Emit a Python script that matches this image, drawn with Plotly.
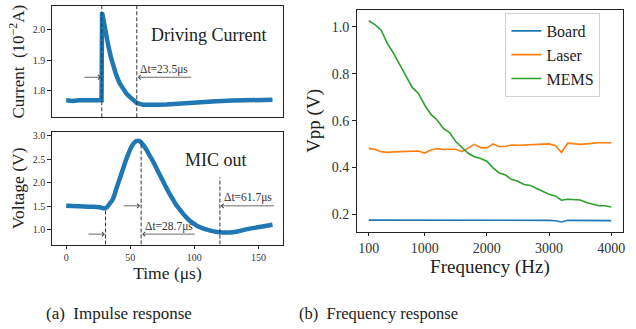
import plotly.graph_objects as go

# ---------------- data ----------------
# (a) Driving current (10^-2 A) vs time (us)
cur_t = [0, 5, 10, 15, 20, 25, 27.6, 28.0, 29.5, 31.2, 33, 35.1, 37, 39.0, 41.5, 44.2, 47, 49.4,
         52, 55.1, 60, 65, 72, 78, 90, 104, 117, 130, 145, 161]
cur_v = [1.768, 1.766, 1.768, 1.767, 1.768, 1.767, 1.768, 2.058, 2.02, 1.984, 1.945, 1.907, 1.877,
         1.852, 1.826, 1.806, 1.790, 1.780, 1.768, 1.759, 1.753, 1.752, 1.753, 1.754, 1.758, 1.762,
         1.765, 1.767, 1.769, 1.770]
# (a) MIC output voltage (V) vs time (us)
mic_t = [0, 10, 20, 26, 30.7, 33.8, 36.4, 39, 41.6, 44.2, 46.8, 49.4, 52, 54.6, 57.2, 59.8, 62.4,
         65, 67.6, 70.2, 72.8, 75.4, 78, 80.6, 83.2, 85.8, 88.4, 91, 93.6, 96.2, 98.8, 104, 111.8,
         119.6, 130, 140.4, 150.8, 161]
mic_v = [1.51, 1.50, 1.49, 1.48, 1.46, 1.55, 1.65, 1.86, 2.07, 2.28, 2.49, 2.67, 2.81, 2.88, 2.88,
         2.81, 2.71, 2.58, 2.46, 2.32, 2.18, 2.04, 1.90, 1.77, 1.65, 1.53, 1.44, 1.35, 1.27, 1.20,
         1.15, 1.06, 0.99, 0.95, 0.95, 1.01, 1.06, 1.11]

# event markers (time, top value)
cur_events_t = [27.8, 55.1]
mic_events_t = [30.7, 58.5, 120.0]
mic_events_top = [1.44, 2.88, 2.11]

# arrows: (tail_t, head_t, level)
cur_arrows = [(13.0, 27.1, 1.844), (98.8, 55.9, 1.844)]
mic_arrows = [(16.2, 30.2, 0.91), (43.7, 57.7, 1.51), (101.4, 59.3, 0.91), (163.3, 120.6, 1.51)]
cur_labels = [("Δt=23.5μs", 76.0, 1.868)]
mic_labels = [("Δt=28.7μs", 80.4, 1.08), ("Δt=61.7μs", 142.2, 1.69)]

# (b) Frequency response
freq = list(range(100, 4001, 100))
board = [0.176, 0.176, 0.175, 0.176, 0.176, 0.175, 0.176, 0.176, 0.175, 0.176,
         0.176, 0.175, 0.176, 0.175, 0.176, 0.175, 0.176, 0.176, 0.175, 0.176,
         0.176, 0.175, 0.176, 0.177, 0.175, 0.175, 0.176, 0.175, 0.174, 0.175,
         0.173, 0.168, 0.175, 0.175, 0.174, 0.174, 0.174, 0.174, 0.174, 0.174]
laser = [0.481, 0.478, 0.468, 0.465, 0.467, 0.468, 0.468, 0.470, 0.471, 0.462,
         0.475, 0.481, 0.477, 0.478, 0.478, 0.468, 0.482, 0.499, 0.485, 0.484,
         0.501, 0.489, 0.491, 0.496, 0.495, 0.496, 0.496, 0.499, 0.501, 0.501,
         0.494, 0.465, 0.504, 0.501, 0.499, 0.501, 0.504, 0.506, 0.506, 0.506]
mems = [1.026, 1.010, 0.986, 0.929, 0.887, 0.837, 0.787, 0.742, 0.716, 0.667,
        0.627, 0.603, 0.567, 0.549, 0.511, 0.485, 0.461, 0.446, 0.439, 0.427,
        0.399, 0.377, 0.368, 0.349, 0.342, 0.328, 0.324, 0.311, 0.297, 0.286,
        0.279, 0.261, 0.265, 0.263, 0.262, 0.251, 0.244, 0.237, 0.237, 0.232]

# ---------------- figure ----------------
W, H = 636, 329
FONT = "Liberation Serif"
BLUE, ORANGE, GREEN = "#1f77b4", "#ff7f0e", "#2ca02c"
AX = "#222222"

def xd(a, b):
    return [a / W, b / W]

def yd(top, bot):
    return [1 - bot / H, 1 - top / H]

fig = go.Figure()
fig.add_trace(go.Scatter(x=cur_t, y=cur_v, mode="lines", line=dict(color=BLUE, width=4.5),
                         xaxis="x", yaxis="y", showlegend=False))
fig.add_trace(go.Scatter(x=mic_t, y=mic_v, mode="lines", line=dict(color=BLUE, width=4.5, shape="spline"),
                         xaxis="x2", yaxis="y2", showlegend=False))
for name, vals, col in [("Board", board, BLUE), ("Laser", laser, ORANGE), ("MEMS", mems, GREEN)]:
    fig.add_trace(go.Scatter(x=freq, y=vals, mode="lines", name=name, line=dict(color=col, width=1.6),
                             xaxis="x3", yaxis="y3"))

def axstyle(tsize):
    return dict(showline=True, linecolor=AX, linewidth=1, mirror=True, showgrid=False, zeroline=False,
                ticks="outside", ticklen=3.5, tickcolor=AX,
                tickfont=dict(family=FONT, size=tsize, color="#333"))

cur_range = [1.712, 2.079]
mic_range = [0.69, 3.07]
t_range = [-11.2, 169.3]

top_x = axstyle(10)
top_x["ticks"] = ""

fig.update_layout(
    width=W, height=H, margin=dict(l=0, r=0, t=0, b=0),
    plot_bgcolor="white", paper_bgcolor="white",
    font=dict(family=FONT, color="#222"),
    xaxis=dict(domain=xd(52, 284), range=t_range, anchor="y", showticklabels=False, **top_x),
    yaxis=dict(domain=yd(4, 116), range=cur_range, anchor="x", tickvals=[1.8, 1.9, 2.0],
               ticktext=["1.8", "1.9", "2.0"],
               title=dict(text="Current  (10<sup>−2</sup>A)", font=dict(family=FONT, size=17), standoff=3),
               **axstyle(10)),
    xaxis2=dict(domain=xd(52, 284), range=t_range, anchor="y2", tickvals=[0, 50, 100, 150],
                title=dict(text="Time (μs)", font=dict(family=FONT, size=17.5), standoff=3),
                **axstyle(10)),
    yaxis2=dict(domain=yd(131, 244), range=mic_range, anchor="x2", tickvals=[1.0, 1.5, 2.0, 2.5, 3.0],
                ticktext=["1.0", "1.5", "2.0", "2.5", "3.0"],
                title=dict(text="Voltage (V)", font=dict(family=FONT, size=17.5), standoff=3),
                **axstyle(10)),
    xaxis3=dict(domain=xd(357.7, 625.3), range=[-95, 4195], anchor="y3",
                tickvals=[100, 1000, 2000, 3000, 4000],
                title=dict(text="Frequency (Hz)", font=dict(family=FONT, size=19), standoff=4),
                **axstyle(14)),
    yaxis3=dict(domain=yd(8.3, 231), range=[0.127, 1.071], anchor="x3",
                tickvals=[0.2, 0.4, 0.6, 0.8, 1.0], ticktext=["0.2", "0.4", "0.6", "0.8", "1.0"],
                title=dict(text="Vpp (V)", font=dict(family=FONT, size=19), standoff=6),
                **axstyle(14)),
    legend=dict(x=507 / W, y=1 - 11 / H, xanchor="left", yanchor="top",
                bgcolor="white", bordercolor="#d0d0d0", borderwidth=1,
                font=dict(family=FONT, size=16, color="#222"), itemwidth=30,
                tracegroupgap=0),
)

shapes = []
for t in cur_events_t:
    shapes.append(dict(type="line", xref="x", yref="y domain", x0=t, x1=t, y0=0, y1=1,
                       line=dict(color="#333", width=1, dash="4px,2px")))
for t, top in zip(mic_events_t, mic_events_top):
    shapes.append(dict(type="line", xref="x2", yref="y2", x0=t, x1=t, y0=mic_range[0], y1=top,
                       line=dict(color="#333", width=1, dash="4px,2px")))
fig.update_layout(shapes=shapes)

anns = []
def arrow(xr, yr, tail, head, lvl):
    return dict(x=head, y=lvl, ax=tail, ay=lvl, xref=xr, yref=yr, axref=xr, ayref=yr,
                showarrow=True, arrowhead=4, arrowsize=1.1, arrowwidth=0.8, arrowcolor="#444", text="")
for tail, head, lvl in cur_arrows:
    anns.append(arrow("x", "y", tail, head, lvl))
for tail, head, lvl in mic_arrows:
    anns.append(arrow("x2", "y2", tail, head, lvl))
for txt, x, y in cur_labels:
    anns.append(dict(x=x, y=y, xref="x", yref="y", text=txt, showarrow=False,
                     font=dict(family=FONT, size=11.5, color="#333")))
for txt, x, y in mic_labels:
    anns.append(dict(x=x, y=y, xref="x2", yref="y2", text=txt, showarrow=False,
                     font=dict(family=FONT, size=11.5, color="#333")))
anns.append(dict(x=111, y=1.984, xref="x", yref="y", text="Driving Current", showarrow=False,
                 font=dict(family=FONT, size=18, color="#222")))
anns.append(dict(x=117, y=2.49, xref="x2", yref="y2", text="MIC out", showarrow=False,
                 font=dict(family=FONT, size=18, color="#222")))
anns.append(dict(x=119 / W, y=1 - 313 / H, xref="paper", yref="paper", text="(a)  Impulse response",
                 xanchor="center", yanchor="middle",
                 showarrow=False, font=dict(family=FONT, size=17, color="#222")))
anns.append(dict(x=379.5 / W, y=1 - 313 / H, xref="paper", yref="paper", text="(b)  Frequency response",
                 xanchor="center", yanchor="middle",
                 showarrow=False, font=dict(family=FONT, size=16.5, color="#222")))
fig.update_layout(annotations=anns)

fig.write_html("out.html", config={"displayModeBar": False},
               post_script="document.body.style.margin='0';document.body.style.overflow='hidden';")
